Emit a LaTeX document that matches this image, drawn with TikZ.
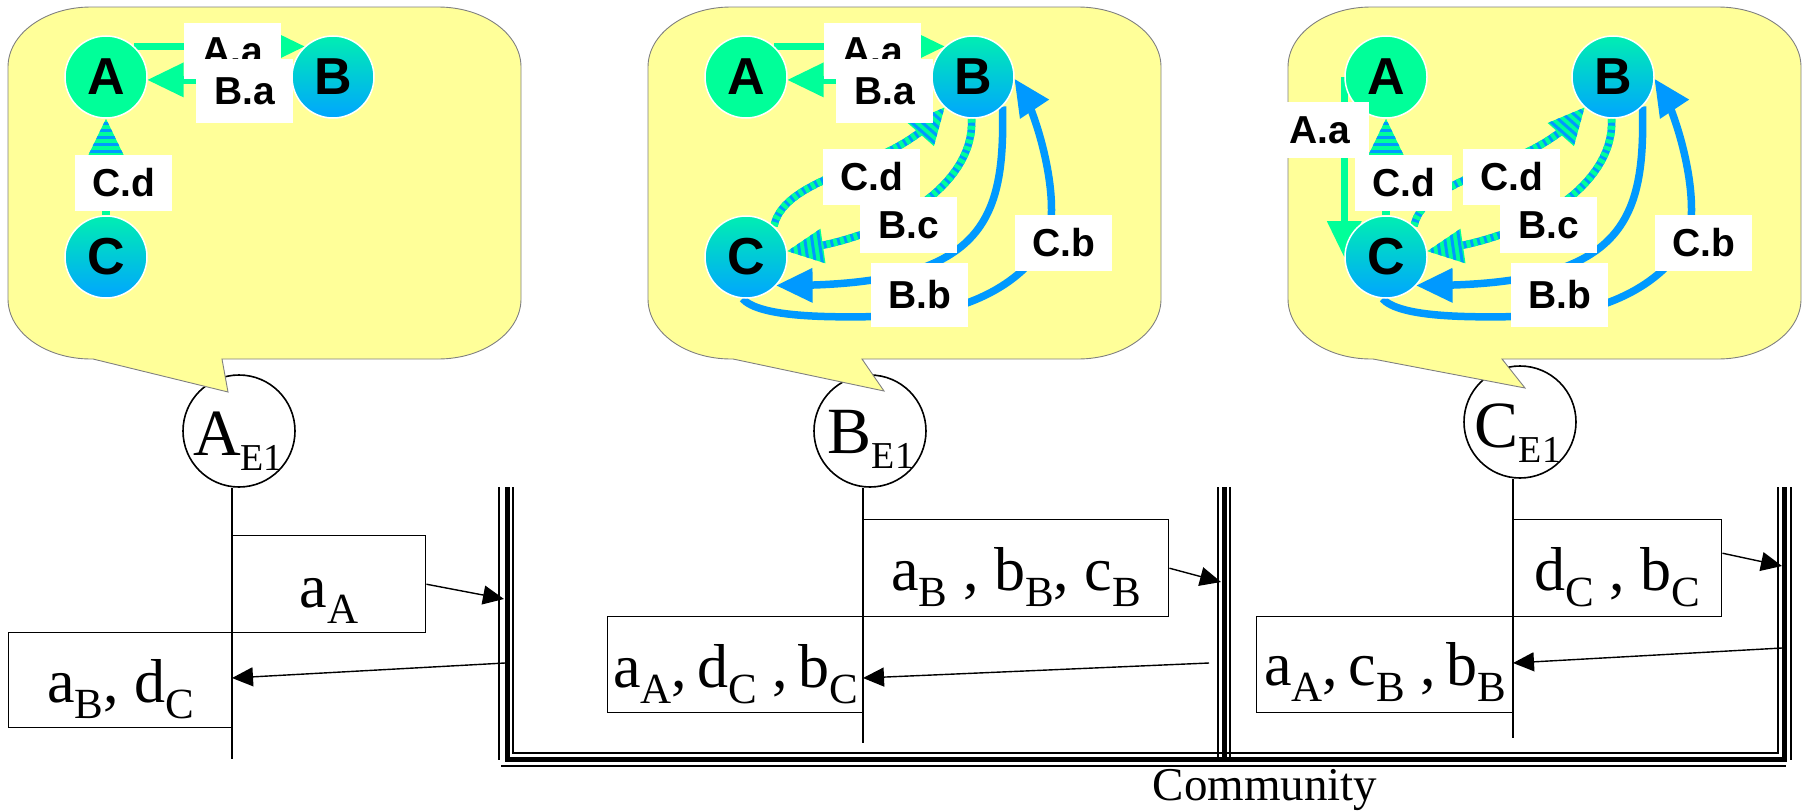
\documentclass[tikz,border=0pt]{standalone}
\usepackage{fontspec}
\setmainfont{Liberation Serif}
\newfontfamily\arialf{Liberation Sans}
\usetikzlibrary{arrows.meta,decorations.markings}
\definecolor{cg}{RGB}{0,255,153}
\definecolor{cb}{RGB}{0,153,255}
\definecolor{cy}{RGB}{255,255,153}
\definecolor{ntop}{RGB}{0,238,178}
\definecolor{nbot}{RGB}{0,165,255}
\definecolor{cgray}{RGB}{128,128,128}
\newcommand\esub[1]{\raisebox{-15pt}{\fontsize{38}{38}\selectfont #1}}
\newcommand\bsub[1]{\raisebox{-16pt}{\fontsize{43}{43}\selectfont #1}}
\newcommand\mycallout[4]{%
  \path[callstyle] ({#1+83},7) -- ({#1+430},7)
    arc[start angle=90,end angle=0,x radius=83pt,y radius=60pt] -- ({#1+513},299)
    arc[start angle=0,end angle=-90,x radius=83pt,y radius=60pt] -- (#3,359) -- #4 -- (#2,359) -- ({#1+83},359)
    arc[start angle=270,end angle=180,x radius=83pt,y radius=60pt] -- (#1,67)
    arc[start angle=180,end angle=90,x radius=83pt,y radius=60pt] -- cycle;}
\pgfdeclarelayer{bg}
\pgfdeclarelayer{edges}
\pgfsetlayers{bg,edges,main}
\tikzset{
  gnode/.style={circle, minimum size=82pt, inner sep=0pt, draw=white, line width=1.5pt,
    font=\arialf\bfseries\fontsize{52}{52}\selectfont},
  gA/.style={gnode, fill=cg},
  gB/.style={gnode, top color=ntop, bottom color=nbot},
  lab/.style={fill=white, inner sep=0pt, minimum width=97pt, minimum height=56pt,
    font=\arialf\bfseries\fontsize{39}{39}\selectfont},
  labt/.style={lab, minimum height=64pt},
  bigtip/.style={postaction={decorate, decoration={markings, mark=at position -0.5pt with {
    \fill[#1, shorten >=0pt] (0.5pt,0pt) -- (-35.5pt,17.5pt) -- (-35.5pt,-17.5pt) -- cycle;}}}},
  stripetip/.style={postaction={decorate, decoration={markings, mark=at position -0.5pt with {
    \begin{scope}[shorten >=0pt]
      \clip (0.5pt,0pt) -- (-35.5pt,17.5pt) -- (-35.5pt,-17.5pt) -- cycle;
      \fill[cg] (-37pt,-19pt) rectangle (1pt,19pt);
      \foreach \xa/\xb in {-3/-6,-10/-13,-17/-20,-24/-27,-31/-34} {\fill[cb] (\xa pt,-19pt) rectangle (\xb pt,19pt);}
    \end{scope}}}}},
  gline/.style={draw=cg, line width=7.5pt, shorten >=12pt, bigtip=cg},
  bline/.style={draw=cb, line width=7.5pt, shorten >=12pt, bigtip=cb},
  sline/.style={draw=cb, line width=7.5pt, shorten >=12pt,
    postaction={draw=cg, dash pattern=on 4pt off 3pt}, stripetip},
  callstyle/.style={fill=cy, draw=cgray, line width=0.9pt},
  ecirc/.style={circle, draw=black, line width=1.6pt, fill=white, minimum size=112pt, inner sep=0pt},
  etext/.style={inner sep=0pt, anchor=base, font=\fontsize{66}{66}\selectfont},
  seqbox/.style={draw=black, line width=1.4pt, inner sep=0pt, anchor=north west,
    font=\fontsize{62}{62}\selectfont},
  life/.style={draw=black, line width=1.4pt},
  sarrow/.style={draw=black, line width=1.4pt, -{Triangle[length=21pt,width=19pt]}},
  busthick/.style={draw=black, line width=5pt},
  busthin/.style={draw=black, line width=2pt},
}
\begin{document}
\begin{tikzpicture}[x=1pt,y=-1pt]
\useasboundingbox (0,0) rectangle (1802,811);

% ---------- background: E1 circles and callouts ----------
\begin{pgfonlayer}{bg}
  \node[ecirc] (AE) at (239,431) {};
  \node[ecirc] (BE) at (870,431) {};
  \node[ecirc] (CE) at (1520,422) {};
  \mycallout{8}{93}{222}{(228,392)}
  \mycallout{648}{733}{862}{(884,391)}
  \mycallout{1288}{1373}{1502}{(1525,388)}
\end{pgfonlayer}

% ---------- panel 1 ----------
\node[gA] (A1) at (106,77) {A};
\node[gB] (B1) at (333,77) {B};
\node[gB] (C1) at (106,257) {C};
\node[lab]  (l1Aa) at (232.5,51) {A.a};
\node[labt] (l1Ba) at (244.5,91) {B.a};
\node[lab]  (l1Cd) at (123.5,183) {C.d};
\begin{pgfonlayer}{edges}
  \draw[gline] (A1.47) -- (B1.133);
  \draw[gline] (B1.184) -- (A1.356);
  \draw[sline] (C1.90) -- (A1.270);
\end{pgfonlayer}

% ---------- panel 2 ----------
\node[gA] (A2) at (746,77) {A};
\node[gB] (B2) at (973,77) {B};
\node[gB] (C2) at (746,257) {C};
\node[lab]  (l2Aa) at (872.5,51) {A.a};
\node[labt] (l2Ba) at (884.5,91) {B.a};
\node[lab]  (l2Cd) at (871.5,177) {C.d};
\node[lab]  (l2Bc) at (908.5,225) {B.c};
\node[labt] (l2Bb) at (919.5,295) {B.b};
\node[lab]  (l2Cb) at (1063.5,243) {C.b};
\begin{pgfonlayer}{edges}
  \draw[gline] (A2.47) -- (B2.133);
  \draw[gline] (B2.184) -- (A2.356);
  \draw[sline] (C2.48) .. controls (785,175) and (890,170) .. (B2.227);
  \draw[sline] (B2.268) .. controls (975,180) and (900,235) .. (C2.8);
  \draw[bline] (B2.-45) .. controls (1005,220) and (985,285) .. (C2.-43);
  \draw[bline] (C2.265) .. controls (760,318) and (830,318) .. (900,316)
     .. controls (960,314) and (1030,285) .. (1050,230)
     .. controls (1058,180) and (1032,105) .. (B2.357);
\end{pgfonlayer}

% ---------- panel 3 ----------
\node[gA] (A3) at (1386,77) {A};
\node[gB] (B3) at (1613,77) {B};
\node[gB] (C3) at (1386,257) {C};
\node[lab]  (l3Aa) at (1320,130) {A.a};
\node[lab]  (l3Cd) at (1403.5,183) {C.d};
\node[lab]  (l3Cd2) at (1511.5,177) {C.d};
\node[lab]  (l3Bc) at (1548.5,225) {B.c};
\node[labt] (l3Bb) at (1559.5,295) {B.b};
\node[lab]  (l3Cb) at (1703.5,243) {C.b};
\begin{pgfonlayer}{edges}
  \draw[gline] (A3.180) -- (C3.180);
  \draw[sline] (C3.90) -- (A3.270);
  \draw[sline] (C3.48) .. controls (1425,175) and (1530,170) .. (B3.227);
  \draw[sline] (B3.268) .. controls (1615,180) and (1540,235) .. (C3.8);
  \draw[bline] (B3.-45) .. controls (1645,220) and (1625,285) .. (C3.-43);
  \draw[bline] (C3.265) .. controls (1400,318) and (1470,318) .. (1540,316)
     .. controls (1600,314) and (1670,285) .. (1690,230)
     .. controls (1698,180) and (1672,105) .. (B3.357);
\end{pgfonlayer}

% ---------- E1 texts ----------
\node[etext] (AEt) at (238,455) {A\esub{E1}};
\node[etext] (BEt) at (871,453) {B\esub{E1}};
\node[etext] (CEt) at (1518,447) {C\esub{E1}};

% ---------- lifelines ----------
\coordinate (AL) at (232,759);
\coordinate (BL) at (863,743);
\coordinate (CL) at (1513,738);
\draw[life] (AE.south -| AL) -- (AL);
\draw[life] (BE.south -| BL) -- (BL);
\draw[life] (CE.south -| CL) -- (CL);

% ---------- message boxes ----------
\node[seqbox, minimum width=193pt, text height=72pt, text depth=25pt] (bA1) at (232,535) {a\bsub{A}};
\node[seqbox, minimum width=224pt, text height=70pt, text depth=25pt] (bA2) at (8,632) {a\bsub{B}, d\bsub{C}};
\node[seqbox, minimum width=305pt, text height=71pt, text depth=26pt] (bB1) at (863,519) {a\bsub{B} , b\bsub{B}, c\bsub{B}};
\node[seqbox, minimum width=256pt, text height=71pt, text depth=25pt] (bB2) at (607,616) {a\bsub{A},\,d\bsub{C} ,\,b\bsub{C}};
\node[seqbox, minimum width=208pt, text height=71pt, text depth=26pt] (bC1) at (1513,519) {d\bsub{C} , b\bsub{C}};
\node[seqbox, minimum width=257pt, text height=69pt, text depth=27pt] (bC2) at (1256,616) {a\bsub{A},\,c\bsub{B} ,\,b\bsub{B}};

% ---------- community bus ----------
\draw[busthick] (507,487) -- (507,759) -- (1784,759) -- (1784,487);
\draw[busthick] (1224,487) -- (1224,759);
\draw[busthin] (513,487) -- (513,753) -- (1778,753) -- (1778,487);
\draw[busthin] (499,487) -- (499,760);
\draw[busthin] (501,766) -- (1786,766);
\draw[busthin] (1791,487) -- (1791,760);
\draw[busthin] (1218,487) -- (1218,759);
\draw[busthin] (1230,487) -- (1230,759);
\node[inner sep=0pt, anchor=base, font=\fontsize{47}{47}\selectfont] (comm) at (1265,800) {Community};

% ---------- message arrows ----------
\coordinate (busA1) at (504,599);
\coordinate (busA2) at (505,663);
\coordinate (lifeA) at (232,678);
\coordinate (busB1) at (1221,582);
\coordinate (busB2) at (1209,663);
\coordinate (lifeB) at (863,678);
\coordinate (busC1) at (1782,566);
\coordinate (busC2) at (1782,648);
\coordinate (lifeC) at (1513,663);
\draw[sarrow] (bA1.east) -- (busA1);
\draw[sarrow] (busA2) -- (lifeA);
\draw[sarrow] (bB1.east) -- (busB1);
\draw[sarrow] (busB2) -- (lifeB);
\draw[sarrow] ([yshift=15pt]bC1.east) -- (busC1);
\draw[sarrow] (busC2) -- (lifeC);
\end{tikzpicture}
\end{document}
